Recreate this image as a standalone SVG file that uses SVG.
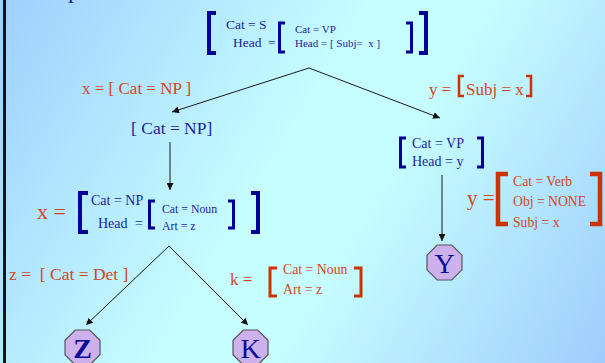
<svg xmlns="http://www.w3.org/2000/svg" width="605" height="363" viewBox="0 0 605 363">
<defs>
  <linearGradient id="bg" x1="0" y1="0" x2="605" y2="363" gradientUnits="userSpaceOnUse">
    <stop offset="0" stop-color="#9fcffd"/>
    <stop offset="0.45" stop-color="#c6fdff"/>
    <stop offset="0.6" stop-color="#c6fdff"/>
    <stop offset="1" stop-color="#9ecdfc"/>
  </linearGradient>
  <marker id="arr" viewBox="0 0 10 10" refX="10" refY="5" markerWidth="7" markerHeight="7" markerUnits="userSpaceOnUse" orient="auto">
    <path d="M0,0 L10,5 L0,10 Z" fill="#111"/>
  </marker>
  <style>
    text { font-family: "Liberation Serif", "Times New Roman", serif; }
    .b { fill: #1e1ea0; }
    .o { fill: #d4461a; }
    .bb { fill: none; stroke: #000099; }
    .ob { fill: none; stroke: #cc3300; }
    .edge { stroke: #1a1a1a; stroke-width: 1; fill: none; marker-end: url(#arr); }
    .oct { fill: #cdb1ec; stroke: #555; stroke-width: 1.2; }
    .let { fill: #0c0c9c; font-size: 28px; text-anchor: middle; }
  </style>
</defs>
<rect x="0" y="0" width="605" height="363" fill="url(#bg)"/>
<rect x="3" y="0" width="3" height="363" fill="#141414"/>
<text x="68" y="-2" font-size="24" class="b">p</text>

<g id="top-avm">
  <path class="bb" stroke-width="4" d="M216,13 H209 V53 H216"/>
  <text class="b" font-size="13.5" x="226" y="29">Cat = S</text>
  <text class="b" font-size="13.5" y="46.5"><tspan x="233">Head</tspan><tspan x="268">=</tspan></text>
  <path class="bb" stroke-width="3" d="M285,23 H279.5 V52 H285"/>
  <text class="b" font-size="11" x="295" y="33">Cat = VP</text>
  <text class="b" font-size="11" x="295" y="47" xml:space="preserve">Head = [ Subj=  x ]</text>
  <path class="bb" stroke-width="3" d="M406,23 H411.5 V52 H406"/>
  <path class="bb" stroke-width="4" d="M419,13 H426 V53 H419"/>
</g>

<g id="label-x-np">
  <text class="o" font-size="17" x="82" y="94">x = [ Cat = NP ]</text>
</g>

<g id="label-y-subj">
  <text class="o" font-size="17" x="429" y="95">y =</text>
  <path class="ob" stroke-width="2.5" d="M464,76 H459 V96 H464"/>
  <text class="o" font-size="17" x="466" y="95">Subj = x</text>
  <path class="ob" stroke-width="2.5" d="M526,76 H531 V96 H526"/>
</g>

<g id="node-cat-np">
  <text class="b" font-size="17.5" x="131" y="134" fill="#2c2ca8">[ Cat = NP]</text>
</g>

<g id="node-vp">
  <path class="bb" stroke-width="3" d="M406,138 H400.5 V167 H406"/>
  <text class="b" font-size="14" x="412" y="148">Cat = VP</text>
  <text class="b" font-size="14" x="412" y="166">Head = y</text>
  <path class="bb" stroke-width="3" d="M477,138 H482.5 V167 H477"/>
</g>

<g id="node-x-avm">
  <text class="o" font-size="22" x="37" y="219">x =</text>
  <path class="bb" stroke-width="4" d="M88,193 H80 V232 H88"/>
  <text class="b" font-size="14" x="91" y="205">Cat = NP</text>
  <text class="b" font-size="14" y="228"><tspan x="98">Head</tspan><tspan x="135">=</tspan></text>
  <path class="bb" stroke-width="3" d="M155,201 H149.5 V228 H155"/>
  <text class="b" font-size="11.8" x="162" y="213">Cat = Noun</text>
  <text class="b" font-size="11.8" x="162" y="230">Art = z</text>
  <path class="bb" stroke-width="3" d="M228,201 H233.5 V228 H228"/>
  <path class="bb" stroke-width="4" d="M251,193 H258 V232 H251"/>
</g>

<g id="node-y-avm">
  <text class="o" font-size="21" x="467" y="205">y =</text>
  <path class="ob" stroke-width="4.5" d="M508,174 H498 V224 H508"/>
  <text class="o" font-size="13.7" x="513" y="186">Cat = Verb</text>
  <text class="o" font-size="13.7" x="513" y="206">Obj = NONE</text>
  <text class="o" font-size="13.7" x="513" y="227">Subj = x</text>
  <path class="ob" stroke-width="4.5" d="M590,174 H600 V224 H590"/>
</g>

<g id="label-z">
  <text class="o" font-size="17.5" x="9" y="280" xml:space="preserve">z =  [ Cat = Det ]</text>
</g>

<g id="label-k">
  <text class="o" font-size="17" x="230" y="285">k =</text>
  <path class="ob" stroke-width="3" d="M277,268 H270 V296 H277"/>
  <text class="o" font-size="13.8" x="283" y="274">Cat = Noun</text>
  <text class="o" font-size="13.8" x="283" y="294">Art = z</text>
  <path class="ob" stroke-width="3" d="M354,268 H361 V296 H354"/>
</g>

<g id="node-Y">
  <polygon class="oct" points="437.2,245 451.8,245 462,255.2 462,269.8 451.8,280 437.2,280 427,269.8 427,255.2"/>
  <text class="let" x="444.5" y="272.5">Y</text>
</g>

<g id="node-Z">
  <polygon class="oct" points="75.3,330 89.7,330 100,340.3 100,354.7 89.7,365 75.3,365 65,354.7 65,340.3"/>
  <text class="let" x="82.5" y="357.5" font-weight="bold">Z</text>
</g>

<g id="node-K">
  <polygon class="oct" points="243.3,330 257.7,330 268,340.3 268,354.7 257.7,365 243.3,365 233,354.7 233,340.3"/>
  <text class="let" x="250.5" y="357.5">K</text>
</g>

<g id="connectors">
  <path class="edge" d="M309,68 L172,112"/>
  <path class="edge" d="M309,68 L440,118"/>
  <path class="edge" d="M170,142 L170,190"/>
  <path class="edge" d="M442,175 L442,241"/>
  <path class="edge" d="M169,246 L86,325"/>
  <path class="edge" d="M169,246 L248,325"/>
</g>
</svg>
